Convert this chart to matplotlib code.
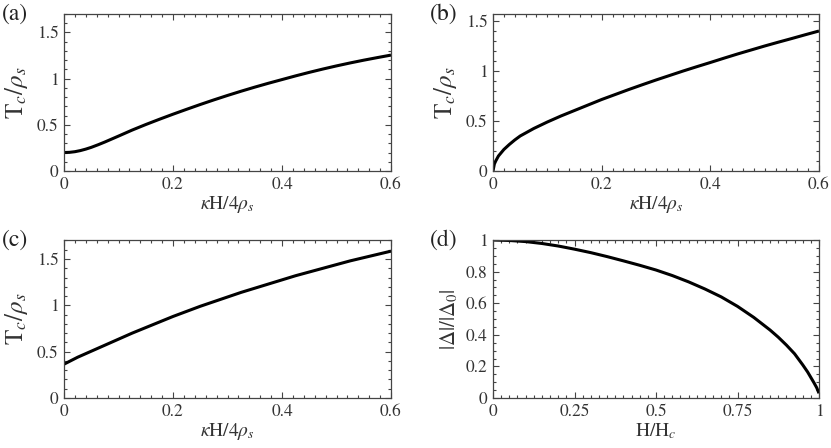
import matplotlib
matplotlib.use("Agg")
import matplotlib.pyplot as plt
from matplotlib.ticker import MultipleLocator, FixedLocator

plt.rcParams['font.family'] = ['STIXGeneral', 'DejaVu Serif']
plt.rcParams['mathtext.fontset'] = 'stix'

# ---- data ----
xa = [0.0, 0.01, 0.02, 0.03, 0.04, 0.05, 0.0625, 0.075, 0.0875, 0.1, 0.125, 0.15, 0.175,
      0.2, 0.225, 0.25, 0.275, 0.3, 0.325, 0.35, 0.375, 0.4, 0.425, 0.45, 0.475, 0.5,
      0.525, 0.55, 0.575, 0.6]
ya = [0.20, 0.202, 0.209, 0.221, 0.237, 0.256, 0.284, 0.314, 0.346, 0.378, 0.443, 0.503,
      0.56, 0.615, 0.668, 0.72, 0.77, 0.818, 0.864, 0.908, 0.95, 0.99, 1.03, 1.068, 1.104,
      1.138, 1.17, 1.2, 1.228, 1.255]

xb = [0.0, 0.0025, 0.005, 0.01, 0.02, 0.03, 0.04, 0.05, 0.075, 0.1, 0.125, 0.15, 0.175,
      0.2, 0.225, 0.25, 0.275, 0.3, 0.325, 0.35, 0.375, 0.4, 0.425, 0.45, 0.475, 0.5,
      0.525, 0.55, 0.575, 0.6]
yb = [0.0, 0.07, 0.10, 0.15, 0.215, 0.265, 0.31, 0.35, 0.425, 0.49, 0.55, 0.605, 0.66,
      0.715, 0.765, 0.815, 0.863, 0.91, 0.955, 1.0, 1.043, 1.085, 1.128, 1.17, 1.21, 1.25,
      1.288, 1.325, 1.363, 1.40]

xc = [0.0, 0.025, 0.05, 0.075, 0.1, 0.125, 0.15, 0.175, 0.2, 0.225, 0.25, 0.275, 0.3,
      0.325, 0.35, 0.375, 0.4, 0.425, 0.45, 0.475, 0.5, 0.525, 0.55, 0.575, 0.6]
yc = [0.365, 0.44, 0.505, 0.57, 0.635, 0.70, 0.76, 0.82, 0.88, 0.935, 0.99, 1.04, 1.09,
      1.14, 1.185, 1.23, 1.275, 1.32, 1.36, 1.40, 1.44, 1.48, 1.515, 1.55, 1.585]

xd = [0.0, 0.05, 0.1, 0.15, 0.2, 0.25, 0.3, 0.35, 0.4, 0.45, 0.5, 0.55, 0.6, 0.65, 0.7,
      0.75, 0.8, 0.85, 0.875, 0.9, 0.925, 0.95, 0.965, 0.975, 0.985, 0.993, 1.0]
yd = [1.0, 0.997, 0.99, 0.978, 0.962, 0.942, 0.92, 0.895, 0.868, 0.84, 0.81, 0.775,
      0.735, 0.69, 0.64, 0.58, 0.51, 0.43, 0.385, 0.335, 0.28, 0.21, 0.165, 0.13, 0.095,
      0.065, 0.03]

panel_labels = ['(a)', '(b)', '(c)', '(d)']
xlabel_k = r'$\kappa$H/4$\rho_s$'
ylabel_T = r'T$_c/\rho_s$'

W, H = 831, 448
fig = plt.figure(figsize=(W / 100, H / 100), dpi=100)

def box(l, r, t, b):
    return [l / W, (H - b) / H, (r - l) / W, (b - t) / H]

axes = [
    fig.add_axes(box(64, 391, 14, 171)),
    fig.add_axes(box(493, 819, 14, 171)),
    fig.add_axes(box(64, 391, 240.5, 398)),
    fig.add_axes(box(493, 819, 240, 398)),
]

data = [(xa, ya), (xb, yb), (xc, yc), (xd, yd)]
for ax, (x, y) in zip(axes, data):
    ax.plot(x, y, color='black', lw=2.2, solid_capstyle='butt', solid_joinstyle='round')
    ax.tick_params(which='both', direction='in', top=True, right=True,
                   labelsize=12.5, colors='#444444', labelcolor='#333333')
    ax.tick_params(which='major', length=4.5, width=0.8, pad=4)
    ax.tick_params(which='minor', length=2.5, width=0.8)
    for s in ax.spines.values():
        s.set_linewidth(0.9)
        s.set_color('#444444')

for i in (0, 1, 2):
    ax = axes[i]
    ax.set_xlim(0, 0.6)
    ax.xaxis.set_major_locator(FixedLocator([0, 0.2, 0.4, 0.6]))
    ax.set_xticklabels(['0', '0.2', '0.4', '0.6'])
    ax.xaxis.set_minor_locator(MultipleLocator(0.02))
    ax.yaxis.set_major_locator(FixedLocator([0, 0.5, 1.0, 1.5]))
    ax.set_yticklabels(['0', '0.5', '1', '1.5'])
    ax.yaxis.set_minor_locator(MultipleLocator(0.1))
    ax.set_xlabel(xlabel_k, fontsize=14, color='#333333', labelpad=1)
    ax.set_ylabel(ylabel_T, fontsize=18, color='#333333', labelpad=5)

axes[0].set_ylim(0, 1.7)
axes[1].set_ylim(0, 1.57)
axes[2].set_ylim(0, 1.7)

axd = axes[3]
axd.set_xlim(0, 1)
axd.set_ylim(0, 1)
axd.xaxis.set_major_locator(FixedLocator([0, 0.25, 0.5, 0.75, 1.0]))
axd.set_xticklabels(['0', '0.25', '0.5', '0.75', '1'])
axd.xaxis.set_minor_locator(MultipleLocator(0.025))
axd.yaxis.set_major_locator(FixedLocator([0, 0.2, 0.4, 0.6, 0.8, 1.0]))
axd.set_yticklabels(['0', '0.2', '0.4', '0.6', '0.8', '1'])
axd.yaxis.set_minor_locator(MultipleLocator(0.05))
axd.set_xlabel(r'H/H$_c$', fontsize=14, color='#333333', labelpad=1)
axd.set_ylabel(r'|$\Delta$|/|$\Delta_0$|', fontsize=15, color='#333333', labelpad=4)

label_pos = [(2, 14), (430, 14), (2, 240), (430, 240)]
for (px, py), lab in zip(label_pos, panel_labels):
    fig.text(px / W, 1 - py / H, lab, fontsize=17, ha='left', va='center', color='#222222')

fig.savefig('out.png', dpi=100)
